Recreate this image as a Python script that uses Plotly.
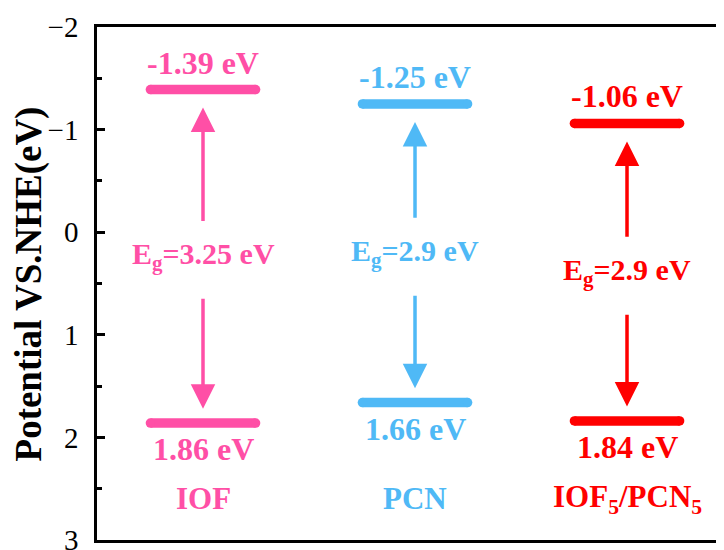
import plotly.graph_objects as go

# ---- data ----
categories = ["IOF", "PCN", "IOF<sub>5</sub>/PCN<sub>5</sub>"]
cb_values = [-1.39, -1.25, -1.06]
vb_values = [1.86, 1.66, 1.84]
eg_values = [3.25, 2.9, 2.9]
colors = ["#FF4FA6", "#4FB9F6", "#FF0000"]
y_tick_vals = [-2, -1, 0, 1, 2, 3]

FONT = "Liberation Serif"
half = 0.248       # half-length of level bars (x units)
bar_w = 9.5

fig = go.Figure()

for i, (cat, cb, vb, eg, col) in enumerate(zip(categories, cb_values, vb_values, eg_values, colors)):
    for lvl in (cb, vb):
        fig.add_trace(go.Scatter(
            x=[i - half, i + half], y=[lvl, lvl], mode="lines+markers",
            line=dict(color=col, width=bar_w),
            marker=dict(color=col, size=bar_w, line=dict(width=0)),
            showlegend=False, hoverinfo="skip"))
    # value labels
    fig.add_annotation(x=i, y=cb, text=f"{cb:.2f} eV", showarrow=False,
                       yanchor="bottom", yshift=7,
                       font=dict(family=FONT, size=32, color=col, weight="bold"))
    fig.add_annotation(x=i, y=vb, text=f"{vb:.2f} eV", showarrow=False,
                       yanchor="top", yshift=-6,
                       font=dict(family=FONT, size=32, color=col, weight="bold"))
    mid = (cb + vb) / 2
    fig.add_annotation(x=i, y=mid, text=f"E<sub>g</sub>={eg:g} eV", showarrow=False,
                       font=dict(family=FONT, size=30, color=col, weight="bold"))
    # arrows
    fig.add_annotation(x=i, y=cb + 0.175, ax=i, ay=mid - 0.33, axref="x", ayref="y",
                       xref="x", yref="y", text="", showarrow=True,
                       arrowhead=2, arrowsize=1.4, arrowwidth=3.5, arrowcolor=col)
    fig.add_annotation(x=i, y=vb - 0.14, ax=i, ay=mid + 0.4, axref="x", ayref="y",
                       xref="x", yref="y", text="", showarrow=True,
                       arrowhead=2, arrowsize=1.4, arrowwidth=3.5, arrowcolor=col)
    # category label
    fig.add_annotation(x=i, y=2.6, text=cat, showarrow=False,
                       font=dict(family=FONT, size=31, color=col, weight="bold"))

# y-axis title
fig.add_annotation(xref="paper", yref="paper", x=-0.1085, y=0.5,
                   xanchor="center", yanchor="middle",
                   text="Potential VS.NHE(eV)", textangle=-90, showarrow=False,
                   font=dict(family=FONT, size=37, color="black", weight="bold"))

fig.update_xaxes(range=[-0.5, 2.4575], showgrid=False, zeroline=False,
                 showline=True, linecolor="black", linewidth=2.5, mirror=True,
                 showticklabels=False, ticks="", automargin=False)
fig.update_yaxes(range=[3, -2], showgrid=False, zeroline=False,
                 showline=True, linecolor="black", linewidth=2.5, mirror=False,
                 tickvals=y_tick_vals, ticks="inside", ticklen=8, tickwidth=2.5,
                 tickcolor="black", automargin=False, ticklabeloverflow="allow",
                 minor=dict(dtick=0.5, ticks="inside", ticklen=5, tickwidth=2.5,
                            tickcolor="black", tick0=0),
                 tickfont=dict(family=FONT, size=29, color="black"),
                 ticklabelstandoff=10)

# page body has an 8px margin, so the figure is sized/offset to fit the 724x550 window
fig.update_layout(width=716, height=542, margin=dict(l=89, r=0, t=19, b=10),
                  plot_bgcolor="white", paper_bgcolor="white")

fig.write_html("out.html")
